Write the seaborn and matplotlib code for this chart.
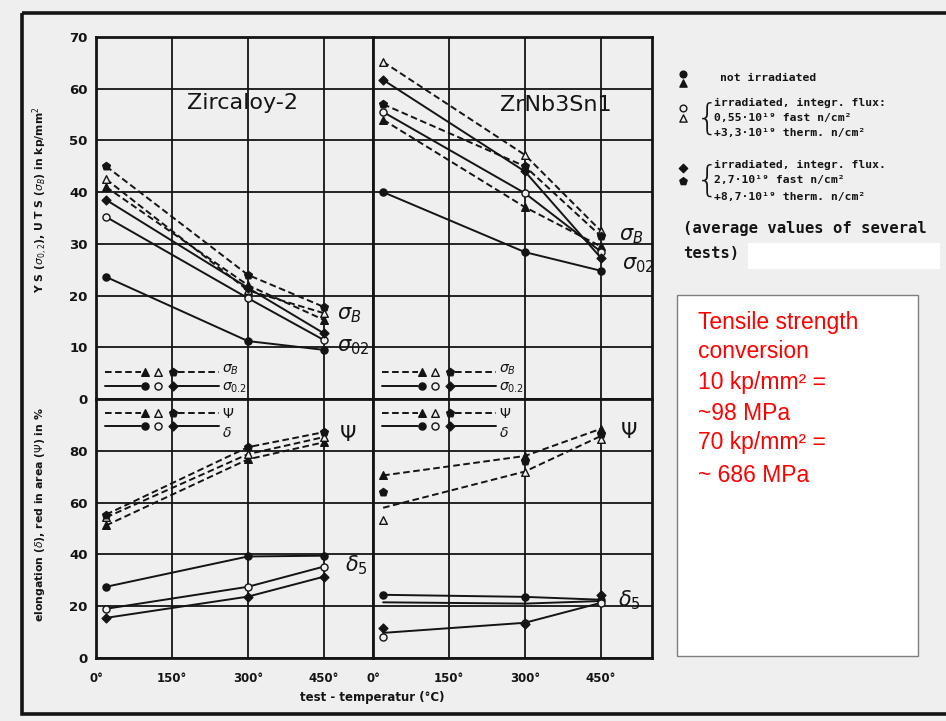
import matplotlib
matplotlib.use("Agg")
import matplotlib.pyplot as plt
import seaborn as sns
from matplotlib.patches import Rectangle

# ---------------------------------------------------------------- data
temps = [20, 300, 450]          # test temperature, °C
temp_ticks = [0, 150, 300, 450]

# Zircaloy-2: UTS (sigma_B) and YS (sigma_0.2) in kp/mm²
zr_uts_unirr = [41.0, 22.0, 15.3]
zr_uts_low = [42.5, 21.0, 16.6]
zr_uts_high = [45.0, 24.0, 17.8]
zr_ys_unirr = [23.6, 11.2, 9.5]
zr_ys_low = [35.2, 19.5, 11.4]
zr_ys_high = [38.5, 21.5, 12.7]
# Zircaloy-2: reduction in area (psi) and elongation (delta_5) in %
zr_ra_unirr = [51.2, 76.7, 83.3]
zr_ra_low = [54.3, 78.7, 85.3]
zr_ra_high = [55.4, 81.4, 87.2]
zr_el_unirr = [27.5, 39.2, 39.5]
zr_el_low = [19.0, 27.5, 35.3]
zr_el_high = [15.5, 23.7, 31.4]

# ZrNb3Sn1: UTS and YS in kp/mm²
nb_uts_unirr = [54.0, 37.1, 29.5]
nb_uts_low = [65.2, 47.2, 32.5]
nb_uts_high = [57.0, 45.0, 31.5]
nb_ys_unirr = [40.0, 28.4, 24.8]
nb_ys_low = [55.5, 39.8, 28.5]
nb_ys_high = [61.7, 44.0, 27.3]
# ZrNb3Sn1: reduction in area and elongation in %
nb_ra_unirr = [70.5, 78.0, 88.5]
nb_ra_low = [53.1, 72.0, 84.5]
nb_ra_high = [64.0, 76.0, 86.5]
nb_el_unirr = [24.4, 23.6, 22.5]
nb_el_low = [8.1, 13.6, 21.3]
nb_el_high = [11.6, 13.2, 24.4]
# hand-fitted trend curves of the ZrNb3Sn1 ductility data
nb_ra_irr_fit = [58.0, 72.0, 85.7]
nb_el_mid_fit = [21.5, 21.0, 22.0]
nb_el_low_fit = [9.7, 13.6, 21.3]

strength_ticks = [0, 10, 20, 30, 40, 50, 60, 70]
ductility_ticks = [0, 20, 40, 60, 80, 100]
ductility_labels = ["0", "20", "40", "60", "80", ""]

legend_lines = [
    "not irradiated",
    "irradiated, integr. flux:",
    "0,55·10¹⁹ fast n/cm²",
    "+3,3·10¹⁹ therm. n/cm²",
    "irradiated, integr. flux.",
    "2,7·10¹⁹ fast n/cm²",
    "+8,7·10¹⁹ therm. n/cm²",
]
note_lines = ["Tensile strength", "conversion", "10 kp/mm² =", "~98 MPa",
              "70 kp/mm² =", "~ 686 MPa"]

# ---------------------------------------------------------------- style
sns.set_theme(style="white")
BG = "#efefef"
INK = "#141414"
plt.rcParams.update({
    "font.family": ["DejaVu Sans"],
    "mathtext.fontset": "dejavusans",
    "axes.facecolor": BG,
    "figure.facecolor": BG,
})
DASH = (0, (3.4, 1.8))

# marker families: strength/psi use triangles, yield/elongation use circles
MARK = {
    ("tri", "unirr"): dict(marker="^", color=INK, s=30),
    ("tri", "low"): dict(marker="^", color=BG, s=30),
    ("tri", "high"): dict(marker="p", color=INK, s=34),
    ("dot", "unirr"): dict(marker="o", color=INK, s=26),
    ("dot", "low"): dict(marker="o", color=BG, s=26),
    ("dot", "high"): dict(marker="D", color=INK, s=20),
}

W, H = 946, 721
fig = plt.figure(figsize=(W / 100, H / 100), dpi=100)


def box(x0, y0, x1, y1):
    return [x0 / W, 1 - y1 / H, (x1 - x0) / W, (y1 - y0) / H]


ax_zr_s = fig.add_axes(box(96, 37, 373, 399))
ax_nb_s = fig.add_axes(box(373, 37, 652, 399))
ax_zr_e = fig.add_axes(box(96, 399, 373, 658))
ax_nb_e = fig.add_axes(box(373, 399, 652, 658))

xmax = {ax_zr_s: 547, ax_zr_e: 547, ax_nb_s: 551, ax_nb_e: 551}

for ax in (ax_zr_s, ax_nb_s, ax_zr_e, ax_nb_e):
    ax.set_facecolor(BG)
    ax.set_xlim(0, xmax[ax])
    ax.set_xticks(temp_ticks)
    ax.grid(True, color=INK, lw=1.3)
    ax.set_axisbelow(True)
    for sp in ax.spines.values():
        sp.set_linewidth(2.0)
        sp.set_color(INK)

for ax in (ax_zr_s, ax_nb_s):
    ax.set_ylim(0, 70)
    ax.set_yticks(strength_ticks)
    ax.tick_params(axis="x", length=0, labelbottom=False)
for ax in (ax_zr_e, ax_nb_e):
    ax.set_ylim(0, 100)
    ax.set_yticks(ductility_ticks)
    ax.set_yticklabels(ductility_labels)
    ax.set_xticklabels([f"{t}°" for t in temp_ticks])
    ax.tick_params(axis="x", direction="out", length=4, width=1.3, pad=6,
                   labelsize=8.5, colors=INK)
for ax in (ax_zr_s, ax_zr_e):
    ax.tick_params(axis="y", direction="out", length=4, width=1.3, pad=2,
                   labelsize=9.5, colors=INK)
for ax in (ax_nb_s, ax_nb_e):
    ax.tick_params(axis="y", length=0, labelleft=False)
for ax in (ax_zr_s, ax_nb_s, ax_zr_e, ax_nb_e):
    for lbl in ax.get_xticklabels() + ax.get_yticklabels():
        lbl.set_fontweight("bold")


def curve(ax, vals, dashed):
    sns.lineplot(x=temps, y=vals, ax=ax, color=INK, lw=1.4,
                 linestyle=DASH if dashed else "-", estimator=None,
                 sort=False, legend=False, zorder=3)


def points(ax, vals, fam, irr):
    m = MARK[(fam, irr)]
    sns.scatterplot(x=temps, y=vals, ax=ax, marker=m["marker"], s=m["s"],
                    color=m["color"], edgecolor=INK, linewidth=1.0,
                    legend=False, zorder=4)


# Zircaloy-2 strength
for vals, irr in ((zr_uts_unirr, "unirr"), (zr_uts_low, "low"), (zr_uts_high, "high")):
    curve(ax_zr_s, vals, True)
    points(ax_zr_s, vals, "tri", irr)
for vals, irr in ((zr_ys_unirr, "unirr"), (zr_ys_low, "low"), (zr_ys_high, "high")):
    curve(ax_zr_s, vals, False)
    points(ax_zr_s, vals, "dot", irr)
# Zircaloy-2 ductility
for vals, irr in ((zr_ra_unirr, "unirr"), (zr_ra_low, "low"), (zr_ra_high, "high")):
    curve(ax_zr_e, vals, True)
    points(ax_zr_e, vals, "tri", irr)
for vals, irr in ((zr_el_unirr, "unirr"), (zr_el_low, "low"), (zr_el_high, "high")):
    curve(ax_zr_e, vals, False)
    points(ax_zr_e, vals, "dot", irr)
# ZrNb3Sn1 strength
for vals, irr in ((nb_uts_unirr, "unirr"), (nb_uts_low, "low"), (nb_uts_high, "high")):
    curve(ax_nb_s, vals, True)
    points(ax_nb_s, vals, "tri", irr)
for vals, irr in ((nb_ys_unirr, "unirr"), (nb_ys_low, "low"), (nb_ys_high, "high")):
    curve(ax_nb_s, vals, False)
    points(ax_nb_s, vals, "dot", irr)
# ZrNb3Sn1 ductility: markers plus fitted trend curves
curve(ax_nb_e, nb_ra_unirr, True)
curve(ax_nb_e, nb_ra_irr_fit, True)
for vals, irr in ((nb_ra_unirr, "unirr"), (nb_ra_low, "low"), (nb_ra_high, "high")):
    points(ax_nb_e, vals, "tri", irr)
curve(ax_nb_e, nb_el_unirr, False)
curve(ax_nb_e, nb_el_mid_fit, False)
curve(ax_nb_e, nb_el_low_fit, False)
for vals, irr in ((nb_el_unirr, "unirr"), (nb_el_low, "low"), (nb_el_high, "high")):
    points(ax_nb_e, vals, "dot", irr)

# ---------------------------------------------------------------- keys inside panels
KEY_SEG1 = [18, 88]
KEY_SEG2 = [162, 242]
KEY_MARK_X = [96, 123, 152]
KEY_LABEL_X = 248


def key_row(ax, y, fam, dashed, label, va):
    ls = DASH if dashed else "-"
    for seg in (KEY_SEG1, KEY_SEG2):
        ax.plot(seg, [y, y], color=INK, lw=1.4, linestyle=ls, zorder=3)
    for x, irr in zip(KEY_MARK_X, ("unirr", "low", "high")):
        m = MARK[(fam, irr)]
        ax.scatter([x], [y], marker=m["marker"], s=m["s"], color=m["color"],
                   edgecolor=INK, linewidth=1.0, zorder=4)
    ax.text(KEY_LABEL_X, y, label, fontsize=10, va=va, ha="left",
            color=INK)


for ax in (ax_zr_s, ax_nb_s):
    key_row(ax, 5.2, "tri", True, r"$\sigma_B$", "baseline")
    key_row(ax, 2.5, "dot", False, r"$\sigma_{0.2}$", "center_baseline")
for ax in (ax_zr_e, ax_nb_e):
    key_row(ax, 94.6, "tri", True, r"$\Psi$", "center_baseline")
    key_row(ax, 89.5, "dot", False, r"$\delta$", "top")

# curve labels
lab = dict(fontsize=15, va="center", ha="left", color=INK)
ax_zr_s.text(476, 16.2, r"$\sigma_B$", **lab)
ax_zr_s.text(476, 10.0, r"$\sigma_{02}$", **lab)
ax_zr_e.text(480, 86.0, r"$\Psi$", **lab)
ax_zr_e.text(491, 36.0, r"$\delta_5$", **lab)
ax_nb_s.text(485, 31.5, r"$\sigma_B$", **lab)
ax_nb_s.text(491, 26.0, r"$\sigma_{02}$", **lab)
ax_nb_e.text(487, 87.2, r"$\Psi$", **lab)
ax_nb_e.text(483, 22.5, r"$\delta_5$", **lab)

# alloy titles
ax_zr_s.text(290, 57.3, "Zircaloy-2", fontsize=16, ha="center", va="center",
             color=INK)
ax_nb_s.text(361, 56.9, "ZrNb3Sn1", fontsize=16, ha="center", va="center",
             color=INK)

# ---------------------------------------------------------------- page overlay
ov = fig.add_axes([0, 0, 1, 1], zorder=10)
ov.set_xlim(0, W)
ov.set_ylim(H, 0)
ov.axis("off")
ov.patch.set_alpha(0)

ov.add_patch(Rectangle((22, 13), 1000, 701, fill=False, lw=2.6, ec=INK,
                       clip_on=False))

ov.text(40, 200, r"Y S ($\sigma_{0,2}$), U T S ($\sigma_B$) in kp/mm$^2$",
        rotation=90, fontsize=7.8, fontweight="bold", ha="center", va="center",
        color=INK)
ov.text(40, 515, r"elongation ($\delta$), red in area ($\Psi$) in %",
        rotation=90, fontsize=7.8, fontweight="bold", ha="center", va="center",
        color=INK)
ov.text(372, 698, "test - temperatur (°C)", fontsize=8.5, fontweight="bold",
        ha="center", va="center", color=INK)

# legend of irradiation conditions
mono = dict(family="DejaVu Sans Mono", fontweight="bold", color=INK,
            va="center", ha="left")
for (x, y), (fam, irr) in zip(
        [(683, 74), (683, 83), (683, 108), (683, 118), (683, 168), (683, 181)],
        [("dot", "unirr"), ("tri", "unirr"), ("dot", "low"), ("tri", "low"),
         ("dot", "high"), ("tri", "high")]):
    m = MARK[(fam, irr)]
    ov.scatter([x], [y], marker=m["marker"], s=m["s"] * 0.9, color=m["color"],
               edgecolor=INK, linewidth=1.0)
ov.text(696, 119, "{", fontsize=26, color=INK, va="center", ha="left",
        fontweight="light")
ov.text(696, 181, "{", fontsize=26, color=INK, va="center", ha="left",
        fontweight="light")
for (x, y), t in zip([(720, 78), (714, 103), (714, 118), (714, 133),
                      (714, 165), (714, 180), (714, 197)], legend_lines):
    ov.text(x, y, t, fontsize=8.2, **mono)
ov.add_patch(Rectangle((748, 243), 192, 26, color="white", lw=0))
ov.text(683, 228, "(average values of several", fontsize=11.2, **mono)
ov.text(683, 253, "tests)", fontsize=11.2, **mono)

# unit conversion note
ov.add_patch(Rectangle((677, 295), 241, 361, facecolor="white",
                       edgecolor="#7f7f7f", lw=1.0))
for y, t in zip([322, 352, 382, 413, 443, 475], note_lines):
    ov.text(698, y, t, fontsize=16.5, family="Liberation Sans", color="#ff0000",
            va="center", ha="left")

fig.savefig("out.png", dpi=100, facecolor=BG)
